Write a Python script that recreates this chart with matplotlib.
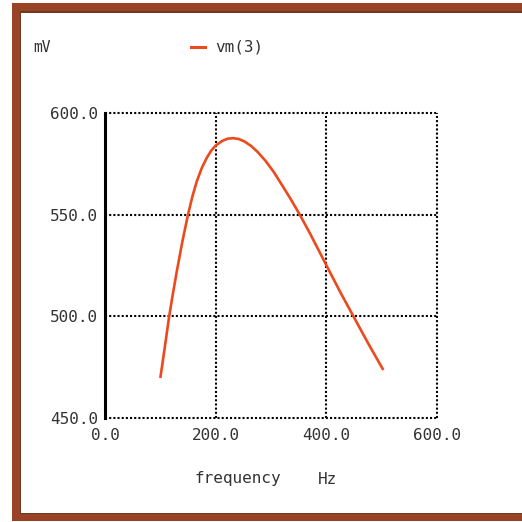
import matplotlib.pyplot as plt
from matplotlib.patches import Rectangle

# vm(3) vs frequency
freq = [100, 105, 110, 116, 122, 130, 140, 150, 158, 166, 175, 184, 192, 200, 212, 222, 232, 242,
        252, 264, 276, 290, 305, 320, 336, 352, 370, 388, 405, 425, 449, 475, 503]
vm = [469.7, 479, 488.5, 500, 510, 522.5, 537, 550, 559, 566.5, 573, 578, 581.5, 584, 586.3, 587.4, 587.6, 587.2,
      586, 583.8, 580.8, 576.5, 571, 564.5, 557.5, 550, 541, 531.5, 522.5, 512, 500, 487, 473.6]

x_ticks = [0, 200, 400, 600]
y_ticks = [450, 500, 550, 600]
x_labels = ["0.0", "200.0", "400.0", "600.0"]
y_labels = ["450.0", "500.0", "550.0", "600.0"]

brown = "#9a4226"
red = "#ec4a1c"
txt = "#333333"
mono = "DejaVu Sans Mono"

fig = plt.figure(figsize=(5.22, 5.22), dpi=100)
W = H = 522.0

# brown picture frame (pixel boxes converted to figure coords)
def box(x0, y0, x1, y1, c):
    fig.patches.append(Rectangle((x0 / W, 1 - y1 / H), (x1 - x0) / W, (y1 - y0) / H,
                                 transform=fig.transFigure, color=c, zorder=0, lw=0))

box(12, 3, 522, 12, brown)
box(12, 3, 20, 521, brown)
box(12, 513, 522, 521, brown)
box(20, 11.5, 522, 12.5, "#6a3a22")
box(19.5, 11.5, 20.5, 513, "#6a3a22")
box(20, 512.5, 522, 513.5, "#6a3a22")

ax = fig.add_axes([105 / W, 1 - 418 / H, 332 / W, 305 / H])
ax.plot(freq, vm, color=red, lw=1.9, solid_capstyle="butt", solid_joinstyle="round", zorder=3)

ax.set_xlim(0, 600)
ax.set_ylim(450, 600)
ax.set_xticks(x_ticks)
ax.set_yticks(y_ticks)
ax.set_xticklabels(x_labels, family=mono, fontsize=11.5, color=txt)
ax.set_yticklabels(y_labels, family=mono, fontsize=11.5, color=txt)
ax.tick_params(axis="y", length=0, pad=5)
ax.tick_params(axis="x", length=0, pad=7)

for s in ["top", "right", "bottom"]:
    ax.spines[s].set_visible(False)
ax.spines["left"].set_linewidth(2.2)
ax.spines["left"].set_color("black")
ax.spines["left"].set_zorder(4)

dots = (0, (1, 1))
for t in x_ticks[1:]:
    ax.axvline(t, color="black", lw=1.5, ls=dots, zorder=1, clip_on=False)
for t in y_ticks:
    ax.axhline(t, color="black", lw=1.5, ls=dots, zorder=1, clip_on=False)

fig.text(33 / W, 1 - 47 / H, "mV", family=mono, fontsize=10.5, color=txt, va="center")
fig.lines.append(plt.Line2D([191 / W, 205 / W], [1 - 47 / H, 1 - 47 / H],
                            transform=fig.transFigure, color=red, lw=2.2))
fig.text(215 / W, 1 - 47 / H, "vm(3)", family=mono, fontsize=11.5, color=txt, va="center")
fig.text(195 / W, 1 - 479 / H, "frequency", family=mono, fontsize=11.5, color=txt, va="center")
fig.text(318 / W, 1 - 479 / H, "Hz", family=mono, fontsize=11.5, color=txt, va="center")

fig.savefig("out.png", dpi=100)
